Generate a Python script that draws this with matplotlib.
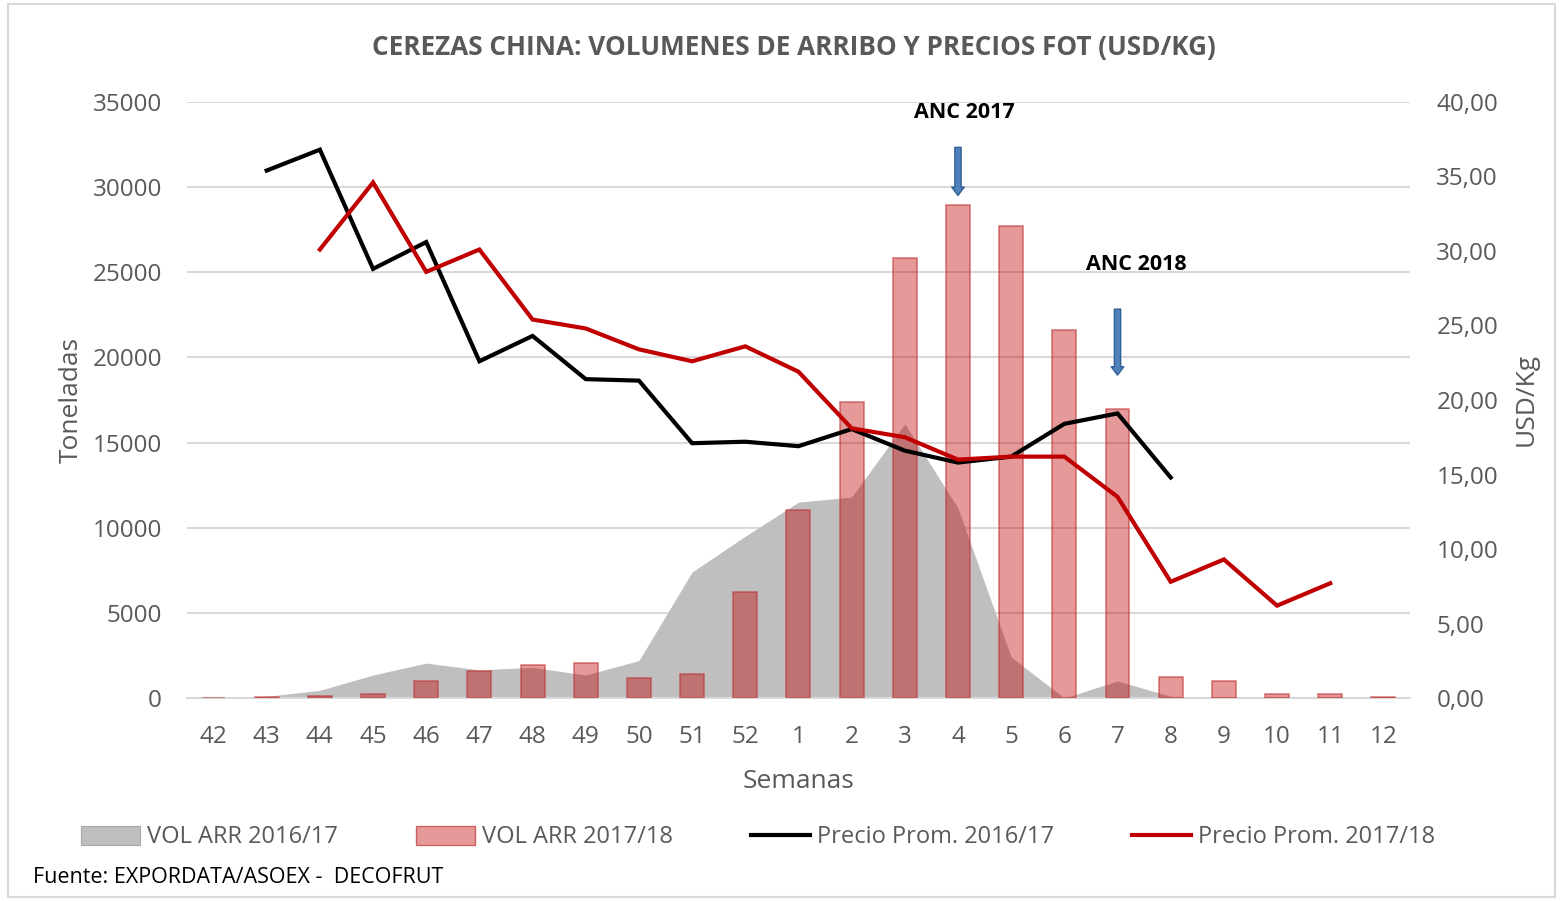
import numpy as np
import matplotlib.pyplot as plt
from matplotlib.patches import Rectangle, Patch
from matplotlib.lines import Line2D
from matplotlib.ticker import FuncFormatter

semanas = ['42', '43', '44', '45', '46', '47', '48', '49', '50', '51', '52',
           '1', '2', '3', '4', '5', '6', '7', '8', '9', '10', '11', '12']

# toneladas
vol_1617 = [0, 100, 450, 1350, 2050, 1650, 1800, 1350, 2200, 7400, 9500,
            11500, 11800, 16100, 11150, 2400, 0, 1000, 100, 50, 20, 0, 0]
vol_1718 = [0, 50, 100, 250, 1000, 1600, 1950, 2050, 1200, 1400, 6250,
            11050, 17400, 25850, 28950, 27700, 21600, 16950, 1250, 1000, 250, 250, 50]

# USD/kg
precio_1617 = [np.nan, 35.4, 36.8, 28.8, 30.6, 22.6, 24.3, 21.4, 21.3, 17.1, 17.2,
               16.9, 18.05, 16.6, 15.8, 16.2, 18.4, 19.1, 14.8, np.nan, np.nan, np.nan, np.nan]
precio_1718 = [np.nan, np.nan, 30.1, 34.6, 28.6, 30.1, 25.4, 24.8, 23.4, 22.6, 23.6,
               21.9, 18.1, 17.5, 16.0, 16.2, 16.2, 13.5, 7.8, 9.3, 6.2, 7.7, np.nan]

txt = '#595959'
grid = '#d9d9d9'
plt.rcParams['font.family'] = ['Open Sans', 'DejaVu Sans']

x = np.arange(len(semanas))

fig = plt.figure(figsize=(15.63, 9.01), dpi=100)
ax = fig.add_axes([0.1196, 0.2253, 0.7825, 0.6615])
ax2 = ax.twinx()

ax.fill_between(x, vol_1617, 0, color='#bfbfbf', lw=0, zorder=2)
ax.bar(x, vol_1718, width=0.45, color=(0.75, 0.0, 0.0, 0.4),
       edgecolor=(0.75, 0.2, 0.2, 0.6), linewidth=1.2, zorder=3)

ax2.plot(x, precio_1617, color='black', lw=3, solid_joinstyle='miter')
ax2.plot(x, precio_1718, color='#c00000', lw=3, solid_joinstyle='miter')

ax.set_xlim(-0.5, len(semanas) - 0.5)
ax.set_ylim(0, 35000)
ax2.set_ylim(0, 40)
ax.set_yticks(np.arange(0, 35001, 5000))
ax2.set_yticks(np.arange(0, 40.1, 5))
ax2.yaxis.set_major_formatter(FuncFormatter(lambda v, p: f'{v:.2f}'.replace('.', ',')))
ax.set_xticks(x)
ax.set_xticklabels(semanas)

ax.grid(axis='y', color=grid, lw=1.5, zorder=0)
ax.set_axisbelow(True)
for a in (ax, ax2):
    for s in a.spines.values():
        s.set_visible(False)
    a.tick_params(length=0, labelsize=17.5, colors=txt)
ax.spines['bottom'].set_visible(True)
ax.spines['bottom'].set_color(grid)
ax.spines['bottom'].set_linewidth(1.5)
ax.tick_params(axis='x', pad=19.5)
ax.tick_params(axis='y', pad=18)
ax2.tick_params(axis='y', pad=19)

ax.set_xlabel('Semanas', fontsize=19, color=txt, labelpad=14)
ax.set_ylabel('Toneladas', fontsize=19, color=txt, labelpad=6)
ax2.set_ylabel('USD/Kg', fontsize=19, color=txt, labelpad=11)

fig.text(0.508, 0.947, 'CEREZAS CHINA: VOLUMENES DE ARRIBO Y PRECIOS FOT (USD/KG)',
         ha='center', va='center', fontsize=18.8, fontweight='bold', color=txt)

# anotaciones
arrow = dict(arrowstyle='simple,head_width=0.9,head_length=0.6,tail_width=0.45',
             fc='#4f81bd', ec='#2f5f96', lw=1)
ax.annotate('', xy=(14, 29350), xytext=(14, 32500), arrowprops=arrow, zorder=6)
ax.annotate('', xy=(17, 18800), xytext=(17, 23000), arrowprops=arrow, zorder=6)
ax.text(14.12, 34400, 'ANC 2017', ha='center', va='center', fontsize=15.5,
        fontweight='bold', color='black', zorder=6)
ax.text(17.35, 25480, 'ANC 2018', ha='center', va='center', fontsize=15.5,
        fontweight='bold', color='black', zorder=6)

handles = [Patch(facecolor='#bfbfbf', edgecolor='#a6a6a6', lw=0.8),
           Patch(facecolor=(0.75, 0.0, 0.0, 0.4), edgecolor=(0.75, 0.2, 0.2, 0.7)),
           Line2D([], [], color='black', lw=3),
           Line2D([], [], color='#c00000', lw=3)]
labels = ['VOL ARR 2016/17', 'VOL ARR 2017/18', 'Precio Prom. 2016/17', 'Precio Prom. 2017/18']
fig.legend(handles, labels, loc='center', bbox_to_anchor=(0.485, 0.0705), ncol=4,
           frameon=False, fontsize=17, labelcolor=txt, handlelength=2.5,
           handleheight=0.9, handletextpad=0.3, columnspacing=3.3)

fig.text(0.021, 0.026, 'Fuente: EXPORDATA/ASOEX -  DECOFRUT', ha='left', va='center',
         fontsize=15.5, color='black')

fig.patches.append(Rectangle((0.005, 0.004), 0.99, 0.992, transform=fig.transFigure,
                             fill=False, ec='#d9d9d9', lw=1.5))

fig.savefig('out.png', dpi=100)
